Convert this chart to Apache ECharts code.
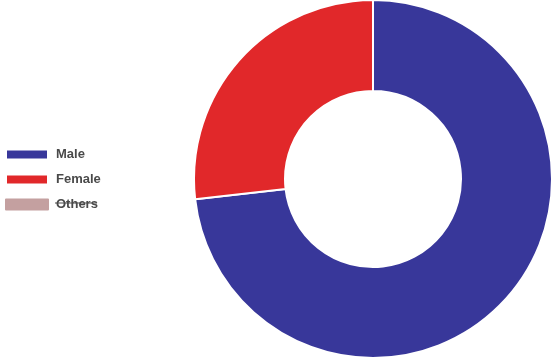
<!DOCTYPE html>
<html>
<head>
<meta charset="utf-8">
<script src="https://cdn.jsdelivr.net/npm/echarts@6/dist/echarts.min.js"></script>
<style>
  html, body { margin: 0; padding: 0; background: #fff; }
  #chart { width: 552px; height: 363px; }
</style>
</head>
<body>
<div id="chart"></div>
<script>
// gender split, Others is switched off in the legend
const categories = ['Male', 'Female', 'Others']
const values = [73.2, 26.8, 1]
const colors = ['#38379a', '#e1282a', '#c4a0a0']
const hidden = { Others: false }

const chart = echarts.init(document.getElementById('chart'))

chart.setOption({
  animation: false,
  color: colors,
  legend: {
    orient: 'vertical',
    left: 0,
    top: 143,
    itemWidth: 42,
    itemHeight: 10,
    itemGap: 12,
    icon: 'rect',
    selected: hidden,
    inactiveColor: colors[2],
    inactiveBorderColor: colors[2],
    formatter: name => '{t|' + name + '}',
    textStyle: {
      padding: [0, 0, 0, 3],
      rich: {
        t: {
          fontFamily: 'Liberation Sans',
          fontSize: 13,
          fontWeight: 'bold',
          color: '#4a4a4a'
        }
      }
    },
    data: categories
  },
  graphic: [
    {
      // strike through the hidden legend entry
      type: 'line',
      id: 'strike',
      shape: { x1: 55, y1: 203, x2: 97, y2: 203 },
      style: { stroke: '#4a4a4a', lineWidth: 1.2 }
    }
  ],
  series: [
    {
      type: 'pie',
      center: [373, 179],
      radius: [88, 179],
      startAngle: 90,
      clockwise: true,
      label: { show: false },
      labelLine: { show: false },
      emphasis: { disabled: true },
      itemStyle: {
        borderColor: '#fff',
        borderWidth: 2
      },
      data: categories.map((name, i) => ({ name: name, value: values[i] }))
    }
  ]
})
</script>
</body>
</html>
